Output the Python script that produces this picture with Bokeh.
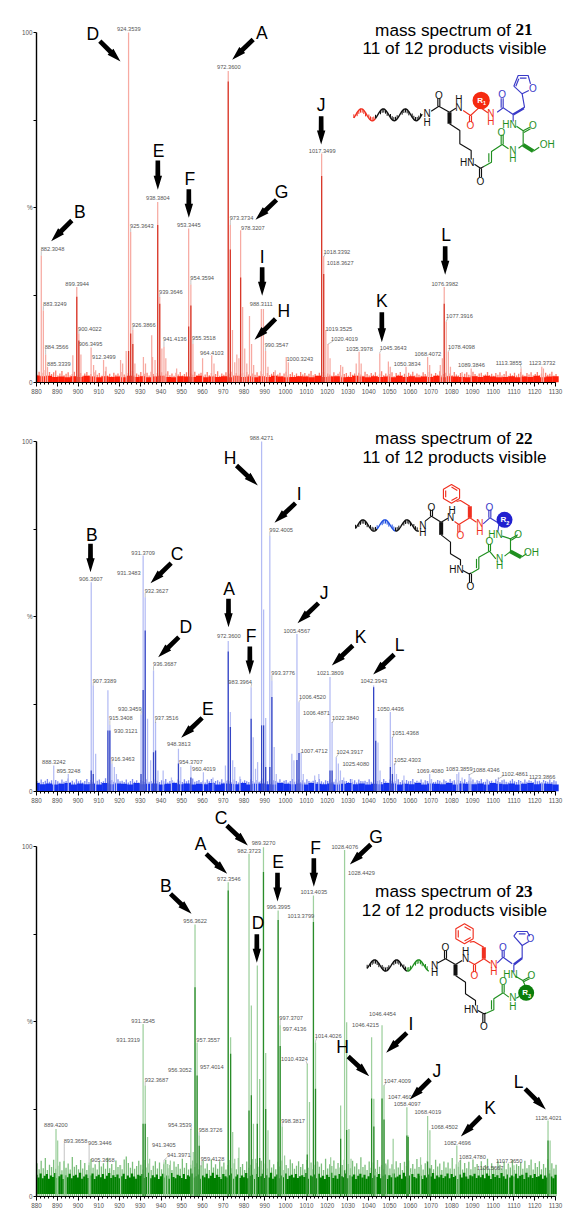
import numpy as np
from bokeh.plotting import figure
from bokeh.layouts import column
from bokeh.models import Range1d, FixedTicker, Label
from bokeh.core.properties import value
from bokeh.embed import file_html
from bokeh.resources import INLINE

# ---------- spectrum 21 ----------
mz_21 = [882.3,883.3,884.4,885.3,897.5,899.4,900.4,901.4,906.3,907.5,
         908.5,912.3,913.5,920.5,921.5,923.2,924.35,925.36,926.4,927.4,
         931.5,932.5,935.5,935.9,937.1,938.38,939.36,940.4,941.4,942.3,
         947.5,953.3,954.36,955.36,960.0,964.41,965.5,972.36,973.37,974.4,
         975.5,976.5,977.5,978.32,979.3,980.3,981.3,982.6,983.6,984.6,
         988.31,989.3,990.35,991.5,995.0,1000.3,1001.3,1017.35,1018.34,1019.35,
         1020.4,1021.4,1026.5,1027.5,1034.0,1035.4,1036.4,1045.36,1049.5,1050.4,
         1058.0,1068.4,1069.4,1074.5,1075.5,1076.4,1077.39,1078.4,1079.4,1085.0,
         1089.4,1113.4,1123.4,1124.2]
int_21 = [36.3,20.6,8,4.5,7.8,27.3,14,8,10,5,
          3.5,6.4,4.5,6.4,5.4,9,100,43,15,5.4,
          7.3,5.4,13.5,7.3,6.4,51.6,24.4,9.7,10.2,6.9,
          4,44,28,11,6.9,7.8,5.4,89,45,15,
          5.8,8,6.9,43.5,21.6,9.7,5.4,19,11,5,
          21,21,9,4.5,3.5,7.3,5.8,65.4,36,15,
          11,6.9,5,4.5,5.4,8.8,5.4,8.3,6,4.5,
          4.5,7.3,5,5,6.9,27.3,17.3,8.8,4.5,3,
          4,4,4.5,4]
core_21 = [0,0,0,0,0,24.5,12,0,0,0,
           0,0,0,0,0,0,9,14,11,0,
           0,0,0,0,0,45,22.5,0,0,0,
           0,16,22,0,0,0,0,86,38,0,
           0,0,0,30,0,0,0,0,0,0,
           0,0,0,0,0,0,0,59,31,0,
           0,0,0,0,0,0,0,0,0,0,
           0,0,0,0,0,22.5,0,0,0,0,
           0,0,0,0]
text_21 = ["924.3539","972.3600","938.3804","953.3445","925.3643","973.3734","978.3207","882.3048",
           "899.3944","954.3594","939.3646","883.3249","988.3111","926.3866","900.4022","906.3495",
           "955.3518","941.4136","884.3566","990.3547","964.4103","912.3499","885.3339","1000.3243",
           "1017.3499","1018.3392","1018.3627","1076.3982","1077.3916","1019.3525","1020.4019","1035.3978",
           "1045.3643","1068.4072","1078.4098","1050.3834","1089.3846","1113.3855","1123.3732"]
noise_21 = [2.2,3.1,2.0,2.8,3.6,2.1,3.0,2.4,2.9,3.4,2.0,2.6,3.3,2.1,2.5,2.9,2.0,2.4,3.1,1.9,
            2.3,2.7,1.9,2.6,3.0,2.0,2.4,1.8,2.9,2.2,2.7,1.9,2.3,3.2,2.0,2.5,1.8,2.8,2.2,2.6,
            2.0,3.0,2.3,1.9,2.7,2.1,3.3,2.0,2.6,2.2,3.0,1.9,2.5,2.8,2.0,3.1,2.4,1.9,2.7,2.2,
            2.9,2.0,2.5,3.2,2.1,2.6,1.9,2.8,2.3,3.0,2.0,2.4,2.9,1.8,2.6,2.2,3.1,2.0,2.5,2.8,
            1.9,2.3,3.0,2.1,2.7,2.0,2.4,3.2,1.9,2.6,2.2,2.9,2.0,2.5,3.1,2.1,2.7,1.9,2.4,2.8,
            2.0,3.0,2.3,1.9,2.6,2.2,2.9,2.0,3.2,2.4,1.9,2.7,2.1,2.5,3.0,2.0,2.3,2.8,1.9,2.6,
            3.1,2.0,2.4,2.9,2.1,2.6,1.9,3.0,2.3,2.7,2.0,2.5,3.3,2.1,2.4,1.9,2.8,2.2,3.0,2.0,
            2.6,2.3,1.9,2.9,2.1,2.5,3.1,2.0,2.4,2.7,1.9,3.0,2.2,2.6,2.0,2.8,2.3,1.9,3.1,2.4,
            2.0,2.7,2.2,2.9,1.9,2.5,3.2,2.1,2.6,2.0,2.4,2.9,1.8,2.7,2.2,3.0,2.0,2.5,1.9,2.8,
            2.3,3.1,2.0,2.6,2.2,1.9,2.9,2.4,2.0,3.0,2.5,1.9,2.7,2.2,3.2,2.0,2.4,2.8,1.9,2.6,
            2.1,3.0,2.3,2.0,2.7,1.9,2.5,2.9,2.2,2.0,3.1,2.4,1.9,2.6,2.8,2.0,2.3,3.0,2.1,2.5,
            1.9,2.7,2.2,2.9,2.0,2.4,3.2,1.9,2.6,2.1,2.8,2.0,2.5,3.0,2.2,1.9,2.7,2.3,2.9,2.0,
            2.4,3.0,2.1,2.6,1.9,2.8,2.2,2.5,3.1,2.0,2.4]
floor_21 = [2.0,1.8,1.9,1.6,1.7,1.5,1.8,1.6,1.9,1.7,1.5,1.8,1.6,1.7,1.5,1.9,1.6,1.8,1.5,1.7,
            1.9,1.6,1.5,1.8,1.7,1.6,1.9,1.5,1.7,1.6,1.8,1.5,1.9,1.6,1.7,1.5,1.8,1.6,1.9,1.7,
            1.5,1.6,1.8,1.7,1.5,1.9,1.6,1.7,1.8,1.5,1.6,1.9,1.7,1.5,1.8,1.6,1.7,1.5,1.9,1.6,
            1.8,1.5,1.7,1.6,1.9,1.5,1.8,1.7,1.6,1.5,1.8,1.6,1.9,1.7,1.5,1.6,1.8,1.5,1.7,1.6,
            1.9,1.5,1.7,1.8]

# ---------- spectrum 22 ----------
mz_22 = [888.3,895.3,906.36,907.34,908.5,914.4,915.34,916.35,917.5,918.5,
         930.35,931.37,932.36,933.5,935.0,936.37,937.35,938.5,941.0,945.0,
         948.38,949.5,954.37,960.4,965.0,971.0,972.36,973.4,974.5,975.5,
         978.0,983.39,984.4,985.5,986.5,988.43,989.4,990.4,992.4,993.38,
         994.5,995.5,1003.0,1004.0,1005.46,1006.45,1007.47,1008.5,1014.0,1016.0,
         1021.38,1022.38,1024.4,1025.4,1026.4,1028.0,1032.0,1042.39,1043.4,1044.5,
         1045.5,1050.44,1051.44,1052.43,1053.4,1057.0,1069.4,1070.2,1082.5,1083.4,
         1085.0,1088.4,1089.2,1097.0,1102.5,1113.0,1123.4,1124.2]
int_22 = [7.4,5,59.8,30.3,10.8,28.9,19,7.9,7,5,
          22,67.4,55.5,20.8,8.9,34.6,19.8,6,6,4,
          12.2,7,7.4,5.5,4,7.4,43,22.7,8.9,7,
          4.3,29.8,15.5,6.5,8.4,100,52,21,73,31.7,
          12.7,5,10.8,8.9,45,25.5,11.2,5,4.6,5,
          32.7,19.8,9.8,8,6,4,3.6,30.3,21,14,
          6,22.7,15.5,8,5,4.6,5,3.6,5,5.5,
          4,5,4,3.6,4,2.7,2.7,2.7]
core_22 = [0,0,6,5,0,17.4,17.4,0,0,0,
           5,29,46,0,0,11.2,11.7,0,0,0,
           8,0,4,0,0,0,40,18.4,0,0,
           0,20.8,0,0,0,18.9,18.9,7,7,27,
           0,0,0,0,9,11,0,0,0,0,
           6,6,0,0,0,0,0,29.8,14.5,0,
           0,7,5,0,0,0,0,0,0,0,
           0,0,0,0,0,0,0,0]
text_22 = ["988.4271","992.4005","931.3709","931.3483","906.3607","932.3627","972.3600","936.3687",
           "983.3964","993.3776","907.3389","930.3459","915.3408","937.3516","930.3121","948.3813",
           "916.3463","954.3707","960.4019","888.3242","895.3248","1005.4567","1021.3809","1042.3943",
           "1006.4520","1006.4871","1050.4436","1022.3840","1051.4368","1024.3917","1007.4712","1025.4080",
           "1052.4303","1069.4080","1083.3859","1088.4346","1102.4861","1123.3866"]
noise_22 = [3.0,2.6,3.4,2.7,3.1,3.6,2.8,3.2,2.6,3.3,2.9,2.5,3.4,2.8,3.0,3.7,2.7,3.1,2.6,3.5,
            2.9,3.2,2.6,3.0,3.6,2.7,3.3,2.8,2.5,3.1,3.4,2.7,2.9,3.8,2.6,3.0,3.3,2.8,2.6,3.5,
            2.9,3.1,2.7,3.4,2.6,3.0,3.6,2.8,3.2,2.6,3.3,2.9,2.7,3.5,2.8,3.0,2.6,3.4,3.1,2.7,
            3.2,2.9,3.6,2.6,3.0,3.3,2.8,2.6,3.4,3.1,2.7,3.5,2.9,3.2,2.6,3.7,2.8,3.0,3.3,2.7,
            3.1,2.6,3.4,2.9,3.6,2.7,3.0,3.2,2.8,3.5,2.6,3.1,3.3,2.9,2.7,3.4,3.0,2.6,3.6,2.8,
            3.2,2.9,2.7,3.5,3.0,2.6,3.3,2.8,3.1,3.7,2.7,2.9,3.4,2.6,3.2,3.0,2.8,3.5,2.7,3.1,
            3.3,2.6,3.0,3.6,2.8,2.9,3.4,2.7,3.2,2.6,3.5,3.0,2.8,3.1,3.3,2.7,3.6,2.9,2.6,3.2,
            3.0,3.4,2.7,2.8,3.5,2.6,3.1,3.3,2.9,3.0,2.7,3.6,2.8,3.2,2.6,3.4,3.0,2.9,3.1,2.7,
            3.5,2.8,2.6,3.3,3.0,3.2,2.7,3.6,2.9,2.6,3.4,3.1,2.8,3.0,3.5,2.7,3.2,2.6,3.3,2.9,
            3.0,3.6,2.7,3.1,2.8,3.4,2.6,3.2,3.0,2.9,3.5,2.7,2.8,3.3,3.1,2.6,3.4,3.0,2.7,3.6,
            2.9,3.2,2.6,3.3,3.0,2.8,3.5,2.7,3.1,2.9,3.4,2.6,3.2,3.0,3.6,2.7,2.8,3.3,2.9,3.1,
            2.6,3.5,3.0,2.7,3.2,3.4,2.8,2.6,3.1,3.6,2.9,2.7,3.3,3.0,2.6,3.4,2.8,3.2,3.0,2.7,
            3.5,2.9,3.1,2.6,3.3,3.0,2.8,3.4,2.7,3.2,2.9]
floor_22 = [2.4,2.1,2.3,2.0,2.2,2.4,2.0,2.3,2.1,2.2,2.0,2.4,2.1,2.3,2.2,2.0,2.4,2.1,2.2,2.3,
            2.0,2.2,2.4,2.1,2.3,2.0,2.2,2.1,2.4,2.0,2.3,2.2,2.1,2.4,2.0,2.2,2.3,2.1,2.0,2.4,
            2.2,2.1,2.3,2.0,2.4,2.2,2.1,2.3,2.0,2.2,2.4,2.1,2.3,2.0,2.2,2.1,2.4,2.3,2.0,2.2,
            2.1,2.4,2.0,2.3,2.2,2.1,2.4,2.0,2.3,2.2,2.1,2.3,2.0,2.4,2.2,2.1,2.3,2.0,2.2,2.4,
            2.1,2.3,2.2,2.0]

# ---------- spectrum 23 ----------
mz_23 = [889.4,890.2,893.37,894.2,905.34,905.8,920.5,931.35,932.37,933.5,
         934.5,941.4,942.2,943.2,944.5,954.35,955.5,956.36,957.36,958.37,
         959.41,972.35,973.5,974.5,975.5,977.5,982.37,983.5,984.5,985.5,
         986.37,987.5,989.33,990.4,991.5,996.4,997.38,998.38,999.5,1010.43,
         1011.5,1013.4,1014.4,1015.5,1021.7,1026.5,1028.4,1029.4,1030.5,1031.5,
         1041.42,1042.5,1043.5,1046.44,1047.4,1048.5,1051.8,1058.41,1059.0,1060.2,
         1065.0,1068.4,1069.5,1082.47,1083.48,1107.4,1110.0,1126.4,1127.4]
int_23 = [19.3,16,10.3,8,9.8,8,8.9,49.3,31.7,17,
          10.8,9.8,9.3,9.3,10.3,19.3,12.7,77.7,44,17.4,
          8.4,89.8,45.5,18.4,10.8,14,97.9,54.6,20.8,10.8,
          66,33.6,99.8,41,18.9,81.7,48.9,20,11.7,37.9,
          27,86,44,9.8,11.2,26,99,49.8,19.3,10.8,
          45.5,27.9,7,48.9,31.7,8.9,16.5,25.5,17.4,7,
          11.2,23,18.9,14.6,9.8,8.9,8.9,21.7,16]
core_23 = [0,0,0,0,0,0,0,20.8,20.8,0,
           0,0,0,0,0,8,0,59.8,34.6,14.5,
           0,87.4,40.8,0,0,0,24.6,28.9,0,0,
           20.8,11,92.7,25,0,79,43,0,0,12,
           0,78.4,30.8,0,0,16.5,7.5,19,0,0,
           28,20,0,28,22,0,0,17.4,17,0,
           0,10,8,0,0,0,0,16,0]
text_23 = ["989.3270","982.3723","972.3546","956.3622","996.3995","931.3545","931.3319","957.3557",
           "997.3707","997.4136","957.4014","956.3052","1010.4324","932.3687","889.4200","954.3539",
           "958.3726","998.3817","893.3658","905.3446","941.3405","941.3971","905.3668","959.4128",
           "1028.4076","1028.4429","1013.4035","1013.3799","1046.4454","1046.4215","1014.4026","1047.4009",
           "1047.460","1058.4097","1068.4019","1068.4502","1082.4696","1083.4780","1107.3650","1106.5667",
           "1126.4021"]
noise_23 = [9.5,7.8,10.2,8.1,11.0,7.6,9.1,8.4,10.5,7.9,8.8,9.9,7.5,10.1,8.2,9.4,7.7,11.3,8.5,9.0,
            7.8,10.4,8.0,9.6,7.6,8.9,10.7,8.2,9.2,7.7,10.0,8.6,9.5,7.9,11.1,8.1,9.3,7.6,10.3,8.4,
            9.0,7.8,10.6,11.4,9.6,8.2,9.9,7.9,8.7,10.2,9.1,7.7,10.4,8.3,9.4,7.6,8.8,10.1,8.0,9.7,
            7.8,9.2,10.5,8.1,9.0,7.6,10.0,8.5,9.3,7.9,10.8,8.2,9.6,7.7,9.1,10.3,8.4,9.5,7.8,8.9,
            10.2,8.0,9.4,7.6,10.6,8.3,9.2,7.9,10.1,8.6,9.7,7.7,9.0,10.4,8.1,9.5,7.8,11.0,8.4,9.3,
            7.6,10.0,8.2,9.1,10.7,7.9,9.6,8.5,10.2,7.7,9.4,8.0,10.5,8.3,9.2,7.8,9.9,8.6,10.3,7.6,
            9.0,8.1,10.6,9.5,7.9,8.8,10.1,8.4,9.3,7.7,10.4,8.2,9.7,7.8,9.1,10.0,8.5,9.4,7.6,10.8,
            8.0,9.2,8.7,10.3,7.9,9.6,8.3,9.0,10.5,7.7,9.3,8.1,10.2,8.6,9.5,7.8,11.2,8.4,9.1,7.6,
            10.0,8.2,9.7,7.9,10.4,8.5,9.0,7.7,9.4,10.6,8.0,9.2,7.8,10.1,8.3,9.6,7.6,9.9,8.7,10.3,
            8.1,9.3,7.9,10.7,8.4,9.1,7.7,9.5,10.2,8.2,9.0,7.8,10.5,8.6,9.4,7.6,10.0,8.3,9.7,8.0,
            11.0,7.9,9.2,8.5,10.4,7.7,9.6,8.1,9.9,7.8,10.6,8.4,9.3,7.6,10.1,8.2,9.0,10.8,7.9,9.5,
            8.6,7.7,10.3,9.1,8.0,10.0,7.8,9.4,8.3,10.5,7.6,9.2,8.7,9.7,7.9,10.2,8.1,9.0,10.6,7.7,
            9.6,8.4,10.1,7.8,9.3,8.2,10.7,7.6,9.5,8.0,9.1]
floor_23 = [6.2,5.4,6.6,5.2,5.9,6.4,5.1,6.0,5.6,6.7,5.3,5.8,6.3,5.0,6.1,5.5,6.5,5.2,5.9,6.2,
            5.4,6.8,5.1,5.7,6.3,5.3,6.0,6.6,5.0,5.8,6.2,5.5,6.4,5.1,5.9,6.7,5.3,6.1,5.6,6.3,
            5.2,5.8,6.5,5.0,6.0,5.4,6.6,5.7,5.1,6.2,5.9,6.4,5.3,5.6,6.8,5.2,6.1,5.5,6.3,5.0,
            5.8,6.5,5.4,6.0,5.1,6.7,5.6,5.2,6.2,5.9,5.3,6.4,5.0,6.1,5.7,6.6,5.4,5.8,6.3,5.1,
            6.0,5.5,6.5,5.2,5.9,6.8,5.3,6.2,5.6,5.0,6.4,5.8,5.4,6.1,6.6,5.1,5.7,6.3,5.3,6.0,
            5.5,6.7,5.2,5.9,6.2,5.0,6.4,5.6,5.8,6.5,5.3,6.1,5.4,6.8,5.1,5.7,6.3,5.2,6.0,5.5,
            6.6,5.0,5.9,6.2,5.4,6.4,5.3,5.8,6.1,5.6,6.7,5.1,6.0,5.7,6.3,5.2,6.5,5.4,5.9,5.0,
            6.2,5.6,6.8,5.3,6.0,5.1,6.4,5.8,5.5,6.6,5.2,6.1,5.7,6.3,5.0,5.9,6.5,5.4,6.2,5.1,
            5.8,6.7,5.3,6.0,5.6,6.4,5.2,5.9,6.3,5.0,6.1,5.5,6.6,5.4,5.7,6.2,5.1,6.8,5.8,5.3,
            6.0,6.4,5.6,5.2,6.5,5.9,5.0,6.1,5.4,6.3,5.7,6.7,5.1,6.0,5.5,6.2,5.3,5.8,6.6,5.2,
            6.4,5.6,5.9,5.0,6.3,5.4,6.8,5.7,5.1,6.1,5.8,6.5,5.3,6.0,5.5,6.2,5.2,6.6,5.9,5.0,
            6.4,5.6,6.1,5.3,6.7,5.8,5.1,6.3,5.4,6.0,5.7,6.5,5.2,5.9,6.2,5.0,6.8,5.5,6.1,5.3,
            6.4,5.6,5.8,6.3,5.1,6.0,5.4,6.6,5.7,5.2,6.2]

tick_values = list(range(880, 1131, 10))
y_tick_text = {0: "0", 25: "", 50: "%", 75: "", 100: "100"}
FONT = "Liberation Sans"

# ---------- layout of annotations (reference zoom coordinates, 3x) ----------
pos_21 = [(385,85,0),(685,200,0),(472,593,0),(565,674,0),(424,677,0),(723,652,0),(757,681,0),(156,746,0),
          (230,851,0),(605,831,0),(511,874,0),(163,911,0),(782,909,0),(430,972,0),(268,984,0),(270,1029,0),
          (610,1011,0),(523,1016,0),(168,1040,0),(828,1034,0),(634,1057,0),(310,1069,0),(175,1090,0),(37,1075,1),
          (104,450,1),(148,754,1),(158,788,1),(472,850,1),(516,947,1),(154,984,1),(171,1016,1),(216,1045,1),
          (317,1041,1),(421,1061,1),(522,1038,1),(359,1091,1),(552,1094,1),(664,1086,1),(764,1088,1)]
pos_22 = [(783,53,0),(842,328,0),(428,397,0),(385,457,0),(271,474,0),(468,511,0),(685,647,0),(493,731,0),
          (719,783,0),(848,758,0),(312,780,0),(388,865,0),(361,893,0),(498,892,0),(376,930,0),(535,971,0),
          (367,1015,0),(571,1023,0),(610,1046,0),(160,1025,0),(204,1051,0),(28,632,1),(128,758,1),(259,782,1),
          (75,829,1),(87,878,1),(309,865,1),(174,892,1),(354,937,1),(187,995,1),(80,991,1),(205,1030,1),
          (360,1019,1),(428,1050,1),(515,1046,1),(596,1048,1),(682,1060,1),(764,1070,1)]
pos_23 = [(789,53,0),(746,75,0),(685,161,0),(584,287,0),(834,244,0),(428,587,0),(383,642,0),(623,642,0),
          (872,577,0),(882,609,0),(634,723,0),(538,734,0),(882,701,0),(468,762,0),(166,898,0),(538,898,0),
          (630,914,0),(878,887,0),(225,947,0),(298,952,0),(490,957,0),(535,989,0),(307,1002,0),(636,1001,0),
          (172,63,1),(222,141,1),(79,200,1),(40,271,1),(285,565,1),(234,598,1),(122,632,1),(330,766,1),
          (337,814,1),(359,836,1),(421,858,1),(471,903,1),(510,952,1),(555,995,1),(665,1006,1),(608,1028,1),
          (783,876,1)]
# (letter, label x, label y, arrow start x, y, arrow end x, y, zoom column)
arrows_21 = [("D",277,100,298,122,360,183,0),("A",784,96,758,117,695,178,0),("E",474,450,472,480,472,568,0),
             ("F",568,534,565,566,565,652,0),("G",843,575,828,598,765,658,0),("B",238,634,214,660,152,722,0),
             ("I",785,768,785,800,785,886,0),("H",850,930,825,955,762,1018,0),("J",101,312,101,347,101,432,1),
             ("K",283,902,283,935,283,1025,1),("L",476,704,473,737,473,823,1)]
arrows_22 = [("B",274,342,270,370,270,455,0),("C",530,400,512,428,450,488,0),("D",556,620,535,650,473,710,0),
             ("E",622,865,605,892,542,952,0),("A",686,506,684,535,684,620,0),("F",752,645,748,678,748,762,0),
             ("H",689,112,708,135,772,195,0),("I",896,220,885,248,822,307,0),("J",110,518,93,548,30,608,1),
             ("K",219,648,196,675,133,735,1),("L",336,672,320,702,257,762,1)]
arrows_23 = [("B",496,182,510,205,573,265,0),("A",600,55,617,85,680,145,0),("E",833,110,831,142,831,228,0),
             ("D",773,293,769,326,769,412,0),("C",662,-24,679,0,742,60,0),("F",84,66,79,98,79,184,1),
             ("G",266,33,250,57,187,117,1),("I",370,594,358,622,296,682,1),("H",165,664,182,693,245,752,1),
             ("J",448,737,428,762,367,822,1),("K",608,847,580,873,520,933,1),("L",693,768,713,790,775,852,1)]

BK, RD, BL, GR = "#111111", "#f03020", "#3a3ac8", "#1f8f1f"


def benzene(c, r, col):
    a = np.deg2rad(np.arange(30, 391, 60))
    pts = [(c[0] + r * np.cos(t), c[1] + r * np.sin(t)) for t in a]
    inner = [(c[0] + .72 * r * np.cos(t), c[1] + .72 * r * np.sin(t)) for t in a]
    out = [(col, 1, pts)]
    for i in (0, 2, 4):
        out.append((col, 1, [inner[i], inner[i + 1]]))
    return out


mol_21 = dict(
    off=(350, 65),
    dna=(10, 215, 148, 18, [(10, 75, RD), (75, 215, BK)]),
    circle=(392, 105, 26, "#f52a10", "R", "1"),
    bonds=[
        (BL,1,[(490,62),(503,30),(533,30),(540,55)]),(BL,1,[(490,62),(515,85),(535,75)]),(BL,1,[(508,38),(528,38)]),
        (BL,1,[(496,62),(505,40)]),(BL,1,[(515,85),(522,125),(505,137)]),(BL,1,[(488,147),(488,168)]),
        (BL,1,[(488,147),(458,127),(440,140)]),(BL,1,[(458,127),(458,98)]),(BL,1,[(452,127),(452,98)]),
        (BL,2,[(488,147),(520,128)]),
        (GR,1,[(498,182),(518,196),(518,238),(504,248)]),(GR,1,[(518,196),(538,185)]),(GR,1,[(520,201),(540,190)]),
        (GR,3.5,[(518,238),(548,257)]),(GR,1,[(548,257),(566,245)]),(GR,1,[(474,250),(455,237),(423,258),(423,290),(400,303)]),
        (GR,1,[(415,263),(415,290)]),(GR,1,[(458,237),(458,208)]),(GR,1,[(452,237),(452,208)]),
        (BK,1,[(400,303),(390,308),(372,296)]),(BK,1,[(387,308),(387,335)]),(BK,1,[(393,308),(393,335)]),
        (BK,1,[(362,282),(362,255),(328,235),(328,195),(297,175)]),(BK,3.5,[(297,140),(297,175)]),
        (BK,1,[(297,140),(265,122),(242,137)]),(BK,1,[(262,122),(262,98)]),(BK,1,[(268,122),(268,98)]),
        (BK,1,[(297,140),(316,128)]),
        (RD,1,[(338,135),(360,150),(385,127)]),(RD,1,[(357,150),(357,170)]),(RD,1,[(363,150),(363,170)]),(RD,1,[(395,130),(412,142)]),
    ],
    atoms=[("O",547,68,BL),("O",455,88,BL),("N",421,145,RD),("H",421,168,RD),("HN",477,178,GR),("O",547,180,GR),
           ("OH",590,238,GR),("N",487,255,GR),("H",487,280,GR),("O",453,200,GR),("O",390,347,BK),("HN",350,292,BK),
           ("N",230,145,BK),("H",230,170,BK),("O",265,90,BK),("N",325,125,BK),("H",325,102,BK),("O",360,180,RD)],
)
mol_22 = dict(
    off=(350, 475),
    dna=(15, 205, 150, 17, [(15, 80, BK), (80, 135, "#2050e0"), (135, 205, BK)]),
    circle=(462, 133, 24, "#2020d0", "R", "2"),
    bonds=benzene((303,55),28,RD) + [
        (RD,1,[(318,78),(330,75),(358,92)]),(RD,3.5,[(358,92),(358,127)]),(RD,1,[(358,127),(325,147),(312,138)]),
        (RD,1,[(322,147),(322,170)]),(RD,1,[(328,147),(328,170)]),(RD,1,[(358,127),(378,140)]),
        (BL,1,[(398,145),(418,127),(440,140)]),(BL,1,[(415,127),(415,102)]),(BL,1,[(421,127),(421,102)]),(BL,1,[(445,148),(442,168)]),
        (GR,1,[(455,182),(480,190),(502,178)]),(GR,1,[(482,194),(500,183)]),(GR,1,[(480,190),(480,228),(462,242)]),
        (GR,3.5,[(480,228),(512,245)]),(GR,1,[(512,245),(528,235)]),
        (GR,1,[(436,250),(417,227),(385,245),(385,280),(362,293)]),(GR,1,[(378,250),(378,278)]),
        (GR,1,[(414,227),(414,205)]),(GR,1,[(420,227),(420,205)]),
        (BK,1,[(362,293),(355,295),(337,285)]),(BK,1,[(357,295),(357,322)]),(BK,1,[(363,295),(363,322)]),
        (BK,1,[(330,270),(330,253),(300,235),(300,200),(272,178)]),(BK,3.5,[(272,140),(272,178)]),
        (BK,1,[(272,140),(243,122),(224,137)]),(BK,1,[(240,122),(240,102)]),(BK,1,[(246,122),(246,102)]),(BK,1,[(272,140),(292,128)]),
    ],
    atoms=[("O",417,95,BL),("N",388,145,RD),("H",388,168,RD),("O",330,180,RD),("N",300,125,BK),("H",305,105,BK),
           ("O",243,95,BK),("N",217,150,BK),("H",217,172,BK),("HN",435,178,GR),("O",503,178,GR),("OH",543,232,GR),
           ("N",447,250,GR),("H",447,270,GR),("O",417,197,GR),("O",360,333,BK),("HN",318,282,BK)],
)
mol_23 = dict(
    off=(350, 915),
    dna=(50, 235, 150, 17, [(50, 170, BK), (170, 235, GR)]),
    circle=(527, 232, 24, "#0a7d0a", "R", "3"),
    bonds=benzene((342,55),30,RD) + [
        (BL,1,[(490,62),(500,48),(530,48),(538,62)]),(BL,1,[(490,62),(515,90),(535,78)]),(BL,1,[(505,55),(525,55)]),
        (RD,1,[(358,80),(370,78),(400,95)]),(RD,3.5,[(400,95),(400,130)]),(RD,1,[(400,130),(372,147),(355,137)]),
        (RD,1,[(369,147),(369,170)]),(RD,1,[(375,147),(375,170)]),(RD,1,[(400,130),(420,143)]),
        (BL,1,[(440,143),(458,125),(485,145)]),(BL,1,[(455,125),(455,105)]),(BL,1,[(461,125),(461,105)]),
        (BL,1,[(490,147),(490,170)]),(BL,2,[(490,147),(515,128)]),(BL,1,[(515,128),(515,90)]),
        (GR,1,[(495,182),(517,195),(535,185)]),(GR,1,[(519,199),(537,190)]),(GR,1,[(517,195),(525,212)]),
        (GR,1,[(475,245),(458,232),(430,250),(430,283),(407,293)]),(GR,1,[(423,254),(423,282)]),
        (GR,1,[(455,232),(455,207)]),(GR,1,[(461,232),(461,207)]),(GR,1,[(497,248),(506,243)]),
        (BK,1,[(407,293),(400,295),(382,285)]),(BK,1,[(397,295),(397,322)]),(BK,1,[(403,295),(403,322)]),
        (BK,1,[(375,270),(375,255),(345,235),(345,200),(315,180)]),(BK,3.5,[(315,147),(315,180)]),
        (BK,1,[(315,147),(285,130),(260,143)]),(BK,1,[(282,130),(282,105)]),(BK,1,[(288,130),(288,105)]),(BK,1,[(315,147),(335,135)]),
    ],
    atoms=[("O",540,68,BL),("O",457,97,BL),("N",430,147,RD),("H",430,168,RD),("O",372,180,RD),("N",345,130,BK),
           ("H",345,108,BK),("O",285,97,BK),("N",252,150,BK),("H",252,172,BK),("HN",480,178,GR),("O",543,180,GR),
           ("N",487,245,GR),("H",487,272,GR),("O",458,197,GR),("O",400,332,BK),("HN",362,282,BK)],
)


def panel(top, y0, bottom_px, mz, ints, core, fuzz, floor, texts, pos, arrows, yoff, colors, num, vis, mol, title_y):
    assert len(mz) == len(ints) == len(core), (len(mz), len(ints), len(core))
    assert len(texts) == len(pos), (len(texts), len(pos))
    light, dark, band, fz = colors
    frame_h = y0 - top
    # the frame runs 10px past 1130 so that labels near the right end stay whole
    p = figure(width=579, height=bottom_px - top, output_backend="svg", toolbar_location=None,
               x_range=Range1d(880, 880 + 529 * 250 / 519), y_range=Range1d(0, frame_h / 3.5),
               min_border_left=36, min_border_right=14, min_border_top=0, min_border_bottom=bottom_px - y0,
               background_fill_color="white", outline_line_color=None)
    p.grid.visible = False

    X = lambda px: 880 + (px - 36) * 250 / 519
    Y = lambda py: (y0 - py) / 3.5
    zx = lambda x, col: x / 3 + (287 if col else 0)
    zy = lambda y: y / 3 + yoff

    ax = p.xaxis[0]
    ax.bounds = (880, 1130)
    ax.ticker = FixedTicker(ticks=tick_values, minor_ticks=list(range(880, 1131, 2)))
    ax.major_label_text_font = FONT
    ax.major_label_text_font_size = "6.3px"
    ax.major_label_text_color = "#555555"
    ax.major_tick_in, ax.major_tick_out, ax.minor_tick_in, ax.minor_tick_out = 0, 4, 0, 2
    ax.major_tick_line_color = ax.minor_tick_line_color = ax.axis_line_color = "#000000"
    ax.axis_line_width = 1.2
    ax.major_label_standoff = 2

    ay = p.yaxis[0]
    ay.bounds = (0, 100)
    ay.ticker = FixedTicker(ticks=list(y_tick_text))
    ay.major_label_overrides = dict(y_tick_text)
    ay.major_label_text_font = FONT
    ay.major_label_text_font_size = "6.3px"
    ay.major_label_text_color = "#555555"
    ay.major_tick_in, ay.major_tick_out = 0, 3
    ay.minor_tick_line_color = None
    ay.major_tick_line_color = ay.axis_line_color = "#000000"
    ay.axis_line_width = 1.4
    ay.major_label_standoff = 1

    # noise floor
    nx = np.linspace(880, 1130, len(fuzz))
    p.segment(nx + .25, 0, nx + .25, fuzz, line_color=fz, line_width=1.3)
    fx = np.linspace(880, 1130, len(floor))
    w = 250 / (len(floor) - 1)
    if len(floor) == len(fuzz):
        p.segment(fx, .7, fx, floor, line_color=band, line_width=2.2)
    else:
        p.vbar(x=fx, top=floor, width=w * 1.02, fill_color=band, line_color=None)

    # peaks
    p.segment(mz, 0, mz, ints, line_color=light, line_width=1.25)
    mz_a, core_a = np.array(mz), np.array(core, float)
    m = core_a > 0
    p.segment(mz_a[m], 0, mz_a[m], core_a[m], line_color=dark, line_width=1.25)

    # peak labels and leaders
    lx, ly = [], []
    lead_x, lead_y = [], []
    for t, (a, b, c) in zip(texts, pos):
        px, py = zx(a, c), zy(b)
        lx.append(X(px)); ly.append(Y(py))
        i = int(np.argmin(abs(mz_a - float(t))))
        ppx = 36 + (mz[i] - 880) * 519 / 250
        ptop = y0 - ints[i] * 3.5
        half = 11.5
        if abs(px - ppx) > 5:
            ex = px - half if px > ppx else px + half
            if ex < ppx and px > ppx:
                ex = ppx
            elbow = py + 5
            if ptop > py + 3:
                lead_x.append([X(ppx), X(ppx), X(ex)])
                lead_y.append([Y(ptop), Y(elbow), Y(py + 2)])
    if lead_x:
        p.multi_line(lead_x, lead_y, line_color="#9a9a9a", line_width=0.6)
    p.text(lx, ly, text=texts, text_font=value(FONT), text_font_size=value("5.7px"), text_color="#555555",
           text_align="center", text_baseline="middle")

    # arrows
    ax_, ay_ = [], []
    ltx, lty, ltt = [], [], []
    for name, a, b, c, d, e, f, col in arrows:
        ltx.append(X(zx(a, col))); lty.append(Y(zy(b))); ltt.append(name)
        s = np.array([zx(c, col), zy(d)]); t = np.array([zx(e, col), zy(f)])
        u = (t - s) / np.linalg.norm(t - s); n = np.array([-u[1], u[0]])
        hb = t - u * 14
        poly = [s + n * 2.3, hb + n * 2.4, hb + n * 4.2, t, hb - n * 4.2, hb - n * 2.4, s - n * 2.3]
        ax_.append([X(q[0]) for q in poly]); ay_.append([Y(q[1]) for q in poly])
    p.patches(ax_, ay_, fill_color="#000000", line_color=None)
    p.text(ltx, lty, text=ltt, text_font=value(FONT), text_font_size=value("17.5px"), text_color="#000000",
           text_align="center", text_baseline="middle")

    # titles
    junction = 515
    p.text([X(junction)], [Y(title_y)], text=["mass spectrum of "], text_font=value(FONT), text_font_size=value("17.2px"),
           text_color="#000000", text_align="right", text_baseline="middle")
    p.text([X(junction)], [Y(title_y)], text=[num], text_font=value("Liberation Serif"), text_font_size=value("17.2px"),
           text_font_style="bold", text_color="#000000", text_align="left", text_baseline="middle")
    p.text([X(454)], [Y(title_y + 18.5)], text=[vis], text_font=value(FONT), text_font_size=value("17.2px"),
           text_color="#000000", text_align="center", text_baseline="middle")

    # structure
    ox, oy = mol["off"]
    mx = lambda x: X(ox + np.asarray(x) / 3)
    my = lambda y: Y(oy + np.asarray(y) / 3)
    x0, x1, cy, amp, parts = mol["dna"]
    for a, b, col in parts:
        t = np.linspace(a, b, 40)
        wave = lambda tt: cy - amp * np.sin((tt - x0) / 66 * 2 * np.pi - .55)
        p.line(mx(t), my(wave(t)), line_color=col, line_width=1.4)
        rt = np.arange(a, b, 5.0)
        keep = np.abs(np.sin((rt - x0) / 66 * 2 * np.pi - .55)) > .35
        rt = rt[keep]
        p.segment(mx(rt), my(wave(rt)), mx(rt), my(wave(rt) + np.sign(cy - wave(rt)) * 11), line_color=col, line_width=1)
    for col, lw, pts in mol["bonds"]:
        p.line([float(mx(q[0])) for q in pts], [float(my(q[1])) for q in pts], line_color=col, line_width=lw * 1.15)
    cxx, cyy, r, col, rr, sub = mol["circle"]
    p.scatter([float(mx(cxx))], [float(my(cyy))], size=2 * r / 3, fill_color=col, line_color=None)
    p.text([float(mx(cxx - 3))], [float(my(cyy))], text=[rr], text_font=value(FONT), text_font_size=value("8px"), text_color="white",
           text_align="center", text_baseline="middle", text_font_style="bold")
    p.text([float(mx(cxx + 10))], [float(my(cyy + 8))], text=[sub], text_font=value(FONT), text_font_size=value("5.5px"), text_color="white",
           text_align="center", text_baseline="middle", text_font_style="bold")
    for txt, a, b, col in mol["atoms"]:
        p.text([float(mx(a))], [float(my(b))], text=[txt], text_font=value(FONT), text_font_size=value("10px"), text_color=col,
               text_align="center", text_baseline="middle")

    # m/z unit
    p.add_layout(Label(x=X(555), y=Y(y0 + 11), x_offset=2, text="m/z", text_font=FONT, text_font_size="6.5px",
                       text_color="#555555", text_align="left", text_baseline="middle"))
    return p


red = ("#f7aaa2", "#d8382a", "#ff1e0a", "#fb7f70")
blue = ("#b4bcf4", "#3344c4", "#1432ee", "#7f8cf0")
green = ("#9ed09e", "#2a8c2a", "#008000", "#7cbf7c")

p1 = panel(0, 382, 408, mz_21, int_21, core_21, noise_21, floor_21, text_21, pos_21, arrows_21, 0, red,
           "21", "11 of 12 products visible", mol_21, 29)
p2 = panel(408, 791, 806, mz_22, int_22, core_22, noise_22, floor_22, text_22, pos_22, arrows_22, 420, blue,
           "22", "11 of 12 products visible", mol_22, 437.7)
p3 = panel(806, 1196, 1218, mz_23, int_23, core_23, noise_23, floor_23, text_23, pos_23, arrows_23, 825, green,
           "23", "12 of 12 products visible", mol_23, 890.7)

layout = column(p1, p2, p3, spacing=0)
open("out.html", "w").write(file_html(layout, INLINE))
